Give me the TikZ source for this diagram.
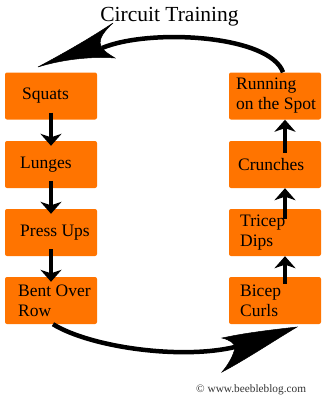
\documentclass[tikz,border=0pt]{standalone}
\usepackage{fontspec}
\setmainfont{Liberation Serif}
\usetikzlibrary{arrows.meta,calc}
\definecolor{boxorange}{HTML}{FF7400}
\definecolor{copygray}{HTML}{333333}
\begin{document}
\begin{tikzpicture}[x=1pt,y=-1pt,
  exbox/.style={fill=boxorange, rounded corners=2pt, minimum width=92pt, minimum height=47pt, inner sep=0pt},
  lbl/.style={anchor=west, inner sep=0pt, align=left, font=\fontsize{17.5}{20}\selectfont},
  varr/.style={line width=3.5pt, -{Stealth[length=12pt,width=21pt,inset=3.5pt]}},
  bigshaft/.style={line width=4.5pt},
  bighead/.style={fill=black, draw=black, line width=0.5pt}]
\useasboundingbox (0,0) rectangle (332,400);
% title
\node[anchor=base, inner sep=0pt, font=\fontsize{21.5}{24}\selectfont] (title) at (169.5,21) {Circuit Training};
% left column boxes
\node[exbox] (squats) at (51,96) {};
\node[exbox] (lunges) at (51,164.5) {};
\node[exbox] (press) at (51,232.5) {};
\node[exbox] (bent) at (51,300.5) {};
% right column boxes
\node[exbox] (run) at (275,96) {};
\node[exbox] (crunch) at (275,164.5) {};
\node[exbox] (tricep) at (275,232.5) {};
\node[exbox] (bicep) at (275,300.5) {};
% labels
\node[lbl] (lsquats) at (22,96) {Squats};
\node[lbl] (llunges) at (20,164.5) {Lunges};
\node[lbl] (lpress) at (20,232.5) {Press Ups};
\node[lbl] (lbent) at (18,300.5) {Bent Over\\Row};
\node[lbl] (lrun) at (236,96) {Running\\on the Spot};
\node[lbl] (lcrunch) at (238,164.5) {Crunches};
\node[lbl] (ltricep) at (240,232.5) {Tricep\\Dips};
\node[lbl] (lbicep) at (240,300.5) {Bicep\\Curls};
% vertical arrows
\draw[varr] ([yshift=7pt]squats.south) -- ([yshift=-5pt]lunges.north);
\draw[varr] ([yshift=7pt]lunges.south) -- ([yshift=-5pt]press.north);
\draw[varr] ([yshift=7pt]press.south) -- ([yshift=-5pt]bent.north);
\draw[varr] ([xshift=10pt,yshift=-7pt]bicep.north) -- ([xshift=10pt]tricep.south);
\draw[varr] ([xshift=10pt,yshift=-10pt]tricep.north) -- ([xshift=10pt]crunch.south);
\draw[varr] ([xshift=10pt,yshift=-12pt]crunch.north) -- ([xshift=10pt]run.south);
% big curved arrows
\coordinate (topnotch) at (102,48);
\coordinate (botnotch) at (235,347);
\draw[bigshaft] ([xshift=8pt]run.north) .. controls (270,35) and (150,28) .. (topnotch);
\fill[bighead] (38,67) .. controls (70,50) and (95,35) .. (113,23)
  .. controls (100,35) and (98,42) .. (topnotch)
  .. controls (105,52) and (110,55) .. (115,58)
  .. controls (90,56) and (60,60) .. cycle;
\draw[bigshaft] ([xshift=2pt]bent.south) .. controls (90,347) and (180,360) .. (botnotch);
\fill[bighead] (297,327) .. controls (270,330) and (245,333) .. (222,338)
  .. controls (230,340) and (234,343) .. (botnotch)
  .. controls (234,355) and (228,365) .. (222,372)
  .. controls (245,360) and (275,340) .. cycle;
% copyright
\node[anchor=base west, inner sep=0pt, text=copygray, font=\fontsize{11.3}{13}\selectfont] (copy) at (196,392) {© www.beebleblog.com};
\end{tikzpicture}
\end{document}
